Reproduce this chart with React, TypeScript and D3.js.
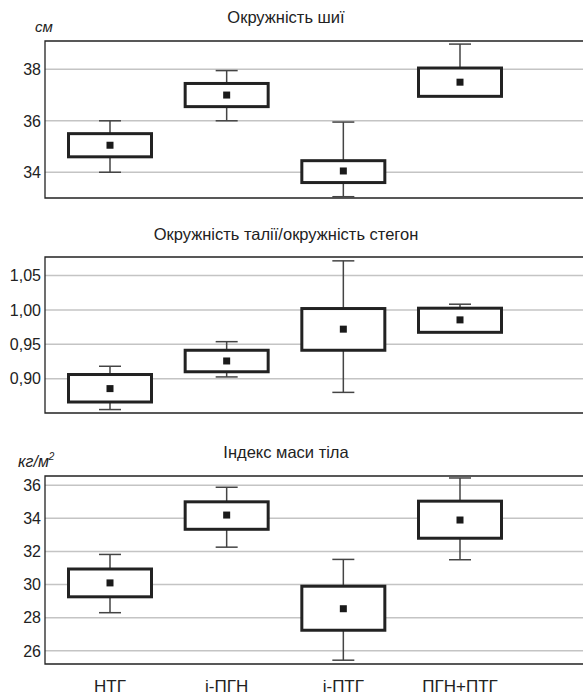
import React from "react";
import * as d3 from "d3";

const groups = ["НТГ", "і-ПГН", "і-ПТГ", "ПГН+ПТГ"];

// [whiskerLow, boxLow, mean, boxHigh, whiskerHigh]
const neck = [
  [34.0, 34.6, 35.05, 35.5, 36.0],
  [36.0, 36.55, 37.0, 37.45, 37.95],
  [33.05, 33.6, 34.05, 34.45, 35.95],
  [36.95, 36.95, 37.5, 38.05, 38.98],
];
const whr = [
  [0.855, 0.866, 0.8855, 0.906, 0.918],
  [0.9025, 0.91, 0.9257, 0.9413, 0.9538],
  [0.88, 0.9413, 0.972, 1.002, 1.0714],
  [0.9674, 0.9674, 0.9855, 1.0025, 1.0083],
];
const bmi = [
  [28.3, 29.26, 30.1, 30.94, 31.82],
  [32.26, 33.34, 34.2, 35.0, 35.88],
  [25.43, 27.24, 28.54, 29.9, 31.52],
  [31.5, 32.8, 33.9, 35.04, 36.44],
];

const neckTicks = [34, 36, 38];
const whrTicks = [0.9, 0.95, 1.0, 1.05];
const bmiTicks = [26, 28, 30, 32, 34, 36];

const titles = ["Окружність шиї", "Окружність талії/окружність стегон", "Індекс маси тіла"];

const W = 583;
const H = 695;
const left = 45;

const panels = [
  { title: titles[0], data: neck, ticks: neckTicks, domain: [33.0, 39.1], top: 41, bottom: 198, titleY: 23, unit: "см", dec: 0 },
  { title: titles[1], data: whr, ticks: whrTicks, domain: [0.85, 1.077], top: 257, bottom: 413, titleY: 240, unit: "", dec: 2 },
  { title: titles[2], data: bmi, ticks: bmiTicks, domain: [25.2, 36.56], top: 476, bottom: 664, titleY: 458, unit: "кг/м", dec: 0 },
];

const x = d3.scalePoint<string>().domain(groups).range([110, 460]);
const boxW = 83;
const capW = 22;
const font = "'Liberation Sans', Arial, sans-serif";

function fmt(v: number, dec: number) {
  return d3.format(`.${dec}f`)(v).replace(".", ",");
}

function Panel({ p }: { p: typeof panels[number] }) {
  const y = d3.scaleLinear().domain(p.domain).range([p.bottom, p.top]);
  return (
    <g>
      <text x={286} y={p.titleY} textAnchor="middle" fontSize={16.5} fill="#222">{p.title}</text>
      {p.unit && (
        <text x={p.unit === "см" ? 35 : 18} y={p.top - 9} fontSize={p.unit === "см" ? 15 : 16} fontStyle="italic" fill="#222">
          {p.unit}
          {p.unit !== "см" && <tspan dy={-7} fontSize={10}>2</tspan>}
        </text>
      )}
      {p.ticks.map((t) => (
        <g key={t}>
          <line x1={left} x2={W} y1={y(t)} y2={y(t)} stroke="#c4c4c4" strokeWidth={1.5} />
          <text x={41} y={y(t)} dy="0.36em" textAnchor="end" fontSize={16} fill="#222">{fmt(t, p.dec)}</text>
        </g>
      ))}
      <path d={`M${W},${p.top}H${left}V${p.bottom}H${W}`} fill="none" stroke="#222" strokeWidth={1.3} />
      {p.data.map((d, i) => {
        const cx = x(groups[i])!;
        return (
          <g key={i}>
            <line x1={cx} x2={cx} y1={y(d[0])} y2={y(d[4])} stroke="#444" strokeWidth={1.5} />
            <line x1={cx - capW / 2} x2={cx + capW / 2} y1={y(d[4])} y2={y(d[4])} stroke="#444" strokeWidth={1.5} />
            <line x1={cx - capW / 2} x2={cx + capW / 2} y1={y(d[0])} y2={y(d[0])} stroke="#444" strokeWidth={1.5} />
            <rect x={cx - boxW / 2} y={y(d[3])} width={boxW} height={y(d[1]) - y(d[3])} fill="#fff" stroke="#222" strokeWidth={3} />
            <rect x={cx - 3.5} y={y(d[2]) - 3.5} width={7} height={7} fill="#1a1a1a" />
          </g>
        );
      })}
    </g>
  );
}

export default function App() {
  return (
    <svg width={W} height={H} style={{ position: "absolute", left: 0, top: 0, background: "#fff" }} fontFamily={font}>
      <rect width={W} height={H} fill="#fff" />
      {panels.map((p, i) => <Panel key={i} p={p} />)}
      {groups.map((g) => (
        <text key={g} x={x(g)} y={692} textAnchor="middle" fontSize={17} fill="#222">{g}</text>
      ))}
    </svg>
  );
}
